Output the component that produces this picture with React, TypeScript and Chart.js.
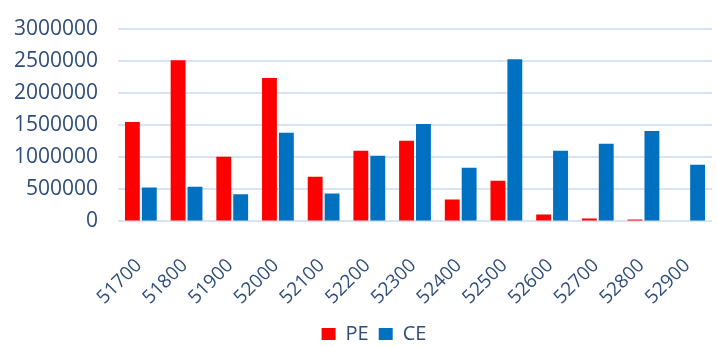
import React, { useEffect, useRef } from "react";
import { Chart, registerables } from "chart.js";

Chart.register(...registerables);

const strikes = ["51700", "51800", "51900", "52000", "52100", "52200", "52300", "52400", "52500", "52600", "52700", "52800", "52900"];
const peValues = [1552000, 2514000, 1009000, 2235000, 698000, 1102000, 1257000, 341000, 636000, 109000, 47000, 31000, 15000];
const ceValues = [528000, 543000, 424000, 1381000, 435000, 1024000, 1521000, 838000, 2530000, 1102000, 1210000, 1412000, 885000];
const yTicks = [0, 500000, 1000000, 1500000, 2000000, 2500000, 3000000];

const textColor = "#2E4D7B";
const gridColor = "#D9E3F4";
const fontFamily = "'Open Sans', sans-serif";

const legendShift = {
  id: "legendShift",
  afterLayout(chart: any) {
    const lg = chart.legend;
    if (lg) {
      const w = lg.right - lg.left;
      const h = lg.bottom - lg.top;
      const center = 374;
      lg.left = center - w / 2;
      lg.right = center + w / 2;
      lg.top = 314;
      lg.bottom = 314 + h;
    }
  },
};

export default function App() {
  const ref = useRef<HTMLCanvasElement | null>(null);
  useEffect(() => {
    if (!ref.current) return;
    const chart = new Chart(ref.current, {
      type: "bar",
      data: {
        labels: strikes,
        datasets: [
          { label: "PE", data: peValues, backgroundColor: "#FF0000", categoryPercentage: 0.74, barPercentage: 0.88 },
          { label: "CE", data: ceValues, backgroundColor: "#0070C0", categoryPercentage: 0.74, barPercentage: 0.88 },
        ],
      },
      options: {
        animation: false,
        responsive: false,
        maintainAspectRatio: false,
        layout: { padding: { left: 14, right: 5, top: 0, bottom: 0 } },
        plugins: {
          tooltip: { enabled: false },
          legend: {
            position: "bottom",
            labels: {
              boxWidth: 14,
              boxHeight: 12,
              padding: 10,
              color: textColor,
              font: { family: fontFamily, size: 20 },
            },
          },
        },
        scales: {
          x: {
            grid: { display: false },
            border: { display: false },
            afterFit: (axis: any) => {
              axis.paddingLeft = 0;
              axis.paddingRight = 0;
              axis.height -= 27;
            },
            ticks: {
              color: textColor,
              font: { family: fontFamily, size: 19 },
              minRotation: 45,
              maxRotation: 45,
              labelOffset: -2,
              padding: 25,
            },
          },
          y: {
            min: 0,
            max: 3000000,
            afterBuildTicks: (axis: any) => {
              axis.ticks = yTicks.map((v) => ({ value: v }));
            },
            afterFit: (axis: any) => {
              axis.width = 104;
              axis.paddingTop = 29;
              axis.paddingBottom = 0;
            },
            grid: { color: gridColor, lineWidth: 2, drawTicks: false },
            border: { display: false },
            ticks: {
              color: textColor,
              font: { family: fontFamily, size: 21 },
              padding: 20,
              callback: (v: any) => String(v),
            },
          },
        },
      },
      plugins: [legendShift],
    });
    return () => chart.destroy();
  }, []);
  return (
    <div style={{ position: "fixed", left: 0, top: 0, width: 717, height: 347, background: "#fff" }}>
      <canvas ref={ref} width={717} height={347} />
    </div>
  );
}
